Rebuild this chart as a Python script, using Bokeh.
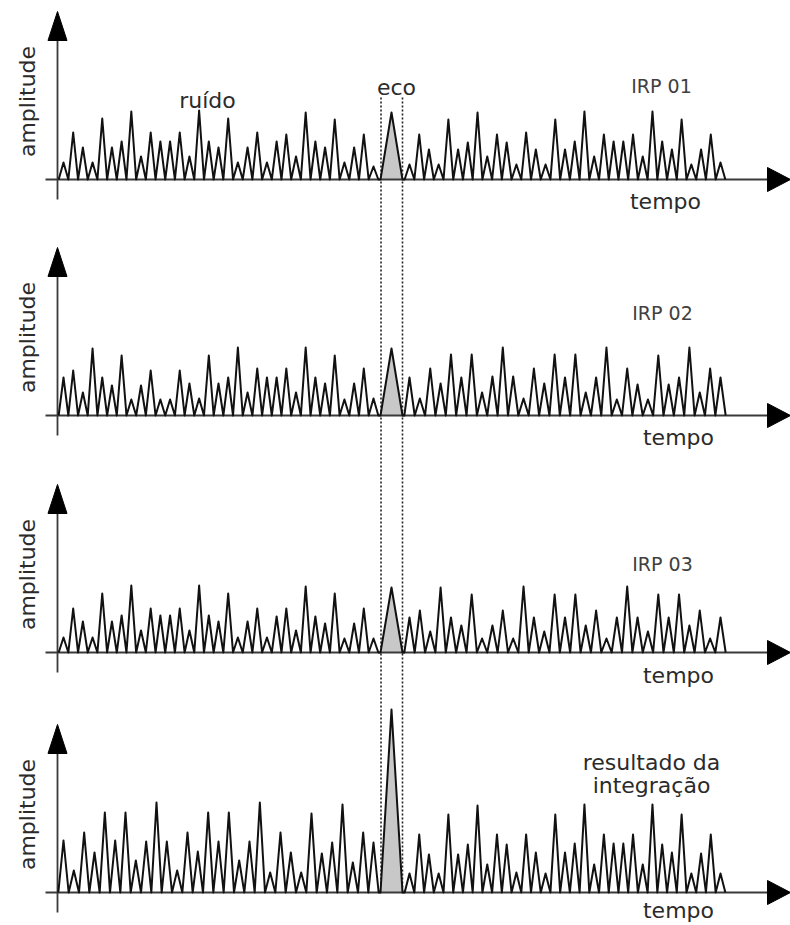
import math
from bokeh.plotting import figure
from bokeh.models import Range1d
from bokeh.core.properties import value
from bokeh.embed import file_html
from bokeh.resources import INLINE

# ---------------- data ----------------
panel_labels = ["IRP 01", "IRP 02", "IRP 03"]
result_label = ["resultado da", "integração"]
y_label = "amplitude"
x_label = "tempo"
noise_label = "ruído"
echo_label = "eco"

noise_left_1 = [17, 47, 32, 17, 61, 32, 38, 68, 23, 47, 38, 38, 47, 23, 69, 38, 32,
                61, 17, 32, 47, 17, 38, 45, 23, 67, 38, 32, 60, 17, 32, 45, 13]
noise_right_1 = [15, 45, 30, 15, 60, 30, 37, 67, 23, 45, 37, 15, 47, 30, 15, 60, 30,
                 38, 68, 23, 45, 38, 38, 45, 23, 68, 38, 30, 60, 15, 30, 45, 17]
noise_left_2 = [38, 45, 23, 67, 38, 30, 60, 16, 30, 45, 16, 16, 45, 32, 17, 60, 32,
                38, 68, 23, 47, 38, 38, 47, 23, 68, 38, 32, 60, 16, 32, 47, 17]
noise_right_2 = [38, 17, 47, 32, 61, 38, 61, 23, 39, 68, 39, 17, 47, 32, 61, 38,
                 61, 23, 38, 68, 16, 47, 31, 16, 60, 31, 38, 68, 23, 47, 38]
noise_left_3 = [15, 44, 31, 15, 59, 31, 37, 67, 22, 44, 37, 37, 44, 22, 67, 37, 31,
                59, 15, 31, 44, 15, 36, 44, 22, 66, 36, 29, 59, 14, 29, 44, 14]
noise_right_3 = [35, 42, 21, 65, 35, 27, 58, 14, 27, 42, 14, 66, 35, 21, 58, 35,
                 58, 27, 42, 14, 35, 66, 35, 21, 58, 35, 58, 27, 42, 14, 35]
noise_left_4 = [52, 22, 60, 40, 80, 52, 80, 32, 51, 90, 51, 22, 60, 41, 80, 51,
                80, 32, 51, 90, 20, 60, 40, 20, 79, 39, 50, 88, 30, 60, 50]
noise_right_4 = [19, 58, 38, 19, 78, 38, 48, 87, 28, 58, 48, 20, 58, 40, 19, 78, 40,
                 49, 88, 28, 58, 49, 49, 58, 28, 88, 48, 40, 78, 19, 39, 58, 19]
echo_heights = [67, 67, 65, 183]

noise_left = [noise_left_1, noise_left_2, noise_left_3, noise_left_4]
noise_right = [noise_right_1, noise_right_2, noise_right_3, noise_right_4]

# ---------------- layout ----------------
W, H = 790, 925
baselines_img = [179, 415, 652, 892]        # from top of the page
bases = [H - b for b in baselines_img]      # in data coords (y up)
AX_X = 57
L0, L1 = 63, 373
R0, R1 = 409, 720
E0, EC, E1 = 380, 391, 402
AXIS_TOP = 168
FONT = value("DejaVu Sans")
INK = "#111111"
TXT = "#2b2b2b"

p = figure(width=W, height=H, x_range=Range1d(0, W), y_range=Range1d(0, H),
           output_backend="svg", toolbar_location=None, min_border=0,
           x_axis_type=None, y_axis_type=None)
p.grid.visible = False
p.outline_line_color = None
p.background_fill_color = "white"
p.border_fill_color = "white"


def trace(left, right, e):
    xs, ys = [], []
    nL = len(left)
    sL = (L1 - L0) / (nL - 1)
    hw = sL / 2
    xs.append(L0 - hw); ys.append(0)
    for i, h in enumerate(left):
        xc = L0 + i * sL
        xs += [xc, xc + hw]
        ys += [h, 0]
    xs += [E0, EC, E1]
    ys += [0, e, 0]
    nR = len(right)
    sR = (R1 - R0) / (nR - 1)
    hw = sR / 2
    for i, h in enumerate(right):
        xc = R0 + i * sR
        xs += [xc - hw, xc, xc + hw]
        ys += [0, h, 0]
    return xs, ys


# dotted guide lines around the echo
top_dot = H - 97
p.segment(x0=[E0 + 0.5, E1], y0=[top_dot, top_dot], x1=[E0 + 0.5, E1],
          y1=[bases[3], bases[3]], line_color="#222222", line_width=1.6,
          line_dash="2 2")

for k in range(4):
    b = bases[k]
    # echo fill
    p.patch(x=[E0, EC, E1], y=[b, b + echo_heights[k], b],
            fill_color="#c8c8c8", line_color=None)
    # axes
    p.segment(x0=[AX_X, 45], y0=[b - 20, b], x1=[AX_X, 770], y1=[b + AXIS_TOP - 20, b],
              line_color="#3a3a3a", line_width=1.8)
    p.patch(x=[AX_X - 9.5, AX_X, AX_X + 9.5],
            y=[b + AXIS_TOP - 29, b + AXIS_TOP, b + AXIS_TOP - 29],
            fill_color="black", line_color="black")
    p.patch(x=[767, 790, 767], y=[b - 12, b, b + 12],
            fill_color="black", line_color="black")
    # signal trace
    xs, ys = trace(noise_left[k], noise_right[k], echo_heights[k])
    p.line(x=xs, y=[b + v for v in ys], line_color=INK, line_width=2.0,
           line_join="round")
    # y label
    p.text(x=[27], y=[b + 78], text=[y_label], angle=math.pi / 2,
           text_font=FONT, text_font_size="22px", text_color=TXT,
           text_align="center", text_baseline="middle")

# x labels ("tempo")
p.text(x=[665, 678, 678, 678], y=[H - 201, H - 437, H - 675, H - 910],
       text=[x_label] * 4, text_font=FONT, text_font_size="22px", text_color=TXT,
       text_align="center", text_baseline="alphabetic")

# panel labels
p.text(x=[661, 662, 662], y=[H - 85, H - 312, H - 563], text=panel_labels,
       text_font=FONT, text_font_size="19px", text_color="#404040",
       text_align="center", text_baseline="alphabetic")
p.text(x=[651, 651], y=[H - 762, H - 785], text=result_label,
       text_font=FONT, text_font_size="22px", text_color=TXT,
       text_align="center", text_baseline="alphabetic")

# annotations for noise and echo
p.text(x=[207], y=[H - 100], text=[noise_label], text_font=FONT,
       text_font_size="22px", text_color=TXT, text_align="center",
       text_baseline="alphabetic")
p.text(x=[396], y=[H - 87], text=[echo_label], text_font=FONT,
       text_font_size="22px", text_color=TXT, text_align="center",
       text_baseline="alphabetic")

open("out.html", "w").write(file_html(p, INLINE))
